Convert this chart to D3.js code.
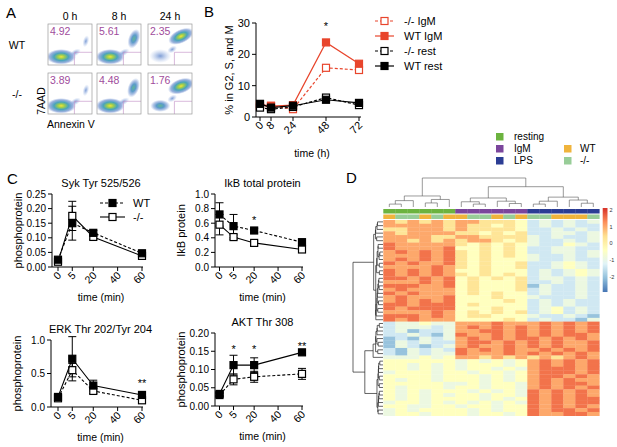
<!DOCTYPE html>
<html>
<head>
<meta charset="utf-8">
<script src="https://cdn.jsdelivr.net/npm/d3@7"></script>
<style>
  body { margin: 0; background: #fff; }
  text { font-family: "Liberation Sans", Arial, Helvetica, sans-serif; }
</style>
</head>
<body>
<script>
// ---------------- data: panel A (flow plots) ----------------
const flowTimes = ['0 h', '8 h', '24 h'];
const flowGenotypes = ['WT', '-/-'];
const flowPct = [[4.92, 5.61, 2.35], [3.89, 4.48, 1.76]];
// populations in each plot, fractions of the box: [cx, cy, rx, ry, angle, kind]
const flowBlobs = [
  [
    [[0.30, 0.80, 0.34, 0.19, 0, 'hot'], [0.62, 0.70, 0.14, 0.08, -30, 'faint'], [0.86, 0.42, 0.07, 0.15, 15, 'faint']],
    [[0.30, 0.80, 0.33, 0.19, 0, 'hot'], [0.60, 0.70, 0.15, 0.08, -30, 'faint'], [0.84, 0.36, 0.13, 0.25, 20, 'cool']],
    [[0.28, 0.78, 0.25, 0.17, 0, 'faint'], [0.55, 0.62, 0.12, 0.08, -30, 'faint'], [0.75, 0.30, 0.31, 0.17, -25, 'hot']]
  ],
  [
    [[0.30, 0.80, 0.34, 0.19, 0, 'hot'], [0.62, 0.70, 0.14, 0.08, -30, 'faint'], [0.86, 0.42, 0.07, 0.15, 15, 'faint']],
    [[0.30, 0.80, 0.33, 0.19, 0, 'hot'], [0.60, 0.70, 0.15, 0.08, -30, 'faint'], [0.83, 0.36, 0.13, 0.25, 20, 'cool']],
    [[0.28, 0.80, 0.23, 0.15, 0, 'cool'], [0.55, 0.62, 0.12, 0.08, -30, 'faint'], [0.75, 0.32, 0.31, 0.18, -20, 'hot']]
  ]
];

// ---------------- data: panel B ----------------
const bTimes = [0, 8, 24, 48, 72];
const bKoIgM = [3.5, 3.6, 2.5, 15.7, 15.0];
const bWtIgM = [4.0, 3.5, 3.8, 23.8, 17.0];
const bKoRest = [3.0, 2.5, 3.2, 6.2, 3.8];
const bWtRest = [4.2, 3.0, 3.6, 5.5, 4.5];
const bNames = ['-/- IgM', 'WT IgM', '-/- rest', 'WT rest'];
const bYTicks = [0, 10, 20, 30];

// ---------------- data: panel C ----------------
const cTimes = [0, 5, 20, 60];
const cTickTimes = [0, 5, 20, 40, 60];
const sykWT = [0.025, 0.150, 0.117, 0.047];
const sykWTErr = [0.005, 0.058, 0.008, 0.005];
const sykKO = [0.018, 0.175, 0.103, 0.038];
const sykKOErr = [0.004, 0.050, 0.008, 0.004];
const ikbWT = [0.72, 0.56, 0.50, 0.34];
const ikbWTErr = [0.16, 0.16, 0.03, 0.02];
const ikbKO = [0.58, 0.41, 0.33, 0.24];
const ikbKOErr = [0.14, 0.03, 0.03, 0.02];
const erkWT = [0.15, 0.72, 0.32, 0.18];
const erkWTErr = [0.05, 0.33, 0.08, 0.02];
const erkKO = [0.13, 0.55, 0.24, 0.10];
const erkKOErr = [0.03, 0.10, 0.04, 0.02];
const aktWT = [0.033, 0.112, 0.112, 0.147];
const aktWTErr = [0.004, 0.027, 0.020, 0.005];
const aktKO = [0.030, 0.073, 0.080, 0.088];
const aktKOErr = [0.004, 0.015, 0.015, 0.015];

// ---------------- data: panel D (heatmap) ----------------
const treatments = ['resting', 'IgM', 'LPS'];
const colTreat = [0, 0, 0, 0, 0, 0, 1, 1, 1, 1, 1, 1, 2, 2, 2, 2, 2, 2];
const colGeno = ['WT', '-/-', '-/-', 'WT', '-/-', 'WT', 'WT', '-/-', '-/-', 'WT', '-/-', 'WT',
                 '-/-', '-/-', 'WT', 'WT', 'WT', '-/-'];
// column dendrogram: [height, left, right]; leaves are column indexes
const colTree = [1.0,
  [0.38, [0.22, [0.10, 0, 1], 2], [0.26, [0.14, 3, 4], 5]],
  [0.70,
    [0.31, [0.18, 6, [0.10, 7, 8]], [0.20, 9, [0.12, 10, 11]]],
    [0.34, [0.20, [0.10, 12, 13], 14], [0.24, 15, [0.13, 16, 17]]]]];
const levelValues = [-2.6, -2.0, -1.4, -0.9, -0.4, 0.3, 1.0, 1.5, 1.9];
const heatRows = [
  '656565665554232323', '666655665555323223', '556665655554223232', '665656566545322323',
  '666665655454232322', '656666554545223323', '766666545454322432', '776767454545233232',
  '767676445444232343', '777667454445132232', '676767545454223323', '767777444544234232',
  '777676455444322321', '676767444454232322', '767667545445223432', '776777454444232322',
  '676667444544322232', '767676545454232343', '666767454445223232', '767666444454232213',
  '676767545444322322', '666676454545234232', '766667445454223322', '676666454445232232',
  '666767545454322323', '767666454544232232', '666676545445223432',
  '233433666766676767', '121323676767767676', '213232767676676767', '132322677676767667',
  '223213766767676776', '132123676676767667', '231223667767676767', '213233766676767676',
  '233323676767676767', '333434665656565676',
  '444444343434676767', '434344434343767676', '444434443434677676', '343444434344767767',
  '444443343443676776', '434344443434767677', '443434344343677767', '344344434434766776',
  '434443443443676767', '443344344344767676', '344434434434677767', '434343443443767676',
  '443434344434676767', '344343434343767677', '434434443434676766'
];
const legendTicks = [2, 1, 0, -1, -2];
const heatBreaks = [-2.9, -2.07, -1.23, -0.4, 0.43, 1.27, 2.1];
const heatPalette = ['#4575b4', '#91bfdb', '#e0f3f8', '#ffffbf', '#fee090', '#fc8d59', '#d73027'];

// ================================================================
const svg = d3.select('body').append('svg').attr('width', 617).attr('height', 447);
const defs = svg.append('defs');
const RED = '#e8452c';

const panelLabel = (t, x, y) => svg.append('text').attr('x', x).attr('y', y)
  .attr('font-size', 15).text(t);

// ---------------- panel A ----------------
panelLabel('A', 6, 18);
const gradStops = {
  hot: [[0, '#f2e23c', 1], [0.22, '#9fcf4c', 1], [0.48, '#3f9fb8', 0.95], [0.78, '#5a80c8', 0.6], [1, '#86a4dc', 0]],
  cool: [[0, '#62b796', 1], [0.38, '#4a90c4', 0.9], [0.72, '#6d8fd0', 0.5], [1, '#90b0e0', 0]],
  faint: [[0, '#5f86cc', 0.8], [1, '#9ab4e4', 0]]
};
Object.entries(gradStops).forEach(([k, stops]) => {
  const g = defs.append('radialGradient').attr('id', 'blob-' + k);
  stops.forEach(s => g.append('stop').attr('offset', s[0]).attr('stop-color', s[1]).attr('stop-opacity', s[2]));
});
const flowX = [48, 97, 148], flowY = [24, 73], flowW = 44, flowH = 41;
flowTimes.forEach((t, j) => svg.append('text').attr('x', flowX[j] + flowW / 2).attr('y', 20)
  .attr('text-anchor', 'middle').attr('font-size', 10.5).text(t));
flowGenotypes.forEach((g, i) => svg.append('text').attr('x', 17).attr('y', flowY[i] + 25)
  .attr('text-anchor', 'middle').attr('font-size', 10.5).text(g));
flowGenotypes.forEach((g, i) => flowTimes.forEach((t, j) => {
  const box = svg.append('g').attr('transform', `translate(${flowX[j]},${flowY[i]})`);
  const cid = `clip-${i}-${j}`;
  defs.append('clipPath').attr('id', cid).append('rect').attr('width', flowW).attr('height', flowH);
  box.append('rect').attr('width', flowW).attr('height', flowH).attr('fill', '#fff');
  const inner = box.append('g').attr('clip-path', `url(#${cid})`);
  flowBlobs[i][j].forEach(b => {
    const cx = b[0] * flowW, cy = b[1] * flowH;
    inner.append('ellipse').attr('cx', cx).attr('cy', cy)
      .attr('rx', b[2] * flowW).attr('ry', b[3] * flowH)
      .attr('transform', `rotate(${b[4]},${cx},${cy})`)
      .attr('fill', `url(#blob-${b[5]})`);
  });
  // apoptotic gate
  box.append('path').attr('d', `M${flowW * 0.6},${flowH} V${flowH * 0.69} H${flowW}`)
    .attr('fill', 'none').attr('stroke', '#c79bcc').attr('stroke-width', 0.7);
  box.append('rect').attr('width', flowW).attr('height', flowH)
    .attr('fill', 'none').attr('stroke', '#9a9a9a').attr('stroke-width', 0.7);
  box.append('text').attr('x', 2).attr('y', 11).attr('font-size', 10.5)
    .attr('fill', '#a04c9c').text(d3.format('.2f')(flowPct[i][j]));
}));
svg.append('text').attr('transform', 'translate(45,101) rotate(-90)')
  .attr('text-anchor', 'middle').attr('font-size', 10.5).text('7AAD');
svg.append('text').attr('x', 47).attr('y', 128).attr('font-size', 10.5).text('Annexin V');

// helpers for markers
function square(g, x, y, s, color, filled) {
  g.append('rect').attr('x', x - s / 2).attr('y', y - s / 2).attr('width', s).attr('height', s)
    .attr('fill', filled ? color : '#fff').attr('stroke', color).attr('stroke-width', 1.2);
}

// ---------------- panel B ----------------
panelLabel('B', 204, 17);
const xB = d3.scaleLinear([0, 72], [260, 359]);
const yB = d3.scaleLinear([0, 30], [117, 23]);
const gB = svg.append('g');
gB.append('line').attr('x1', 256).attr('x2', 256).attr('y1', yB(0)).attr('y2', yB(30)).attr('stroke', '#000');
gB.append('line').attr('x1', 256).attr('x2', 361).attr('y1', yB(0)).attr('y2', yB(0)).attr('stroke', '#000');
bYTicks.forEach(v => {
  gB.append('line').attr('x1', 252).attr('x2', 256).attr('y1', yB(v)).attr('y2', yB(v)).attr('stroke', '#000');
  gB.append('text').attr('x', 250).attr('y', yB(v) + 4).attr('text-anchor', 'end').attr('font-size', 11).text(v);
});
bTimes.forEach(t => {
  gB.append('line').attr('x1', xB(t)).attr('x2', xB(t)).attr('y1', yB(0)).attr('y2', yB(0) + 4).attr('stroke', '#000');
  gB.append('text').attr('transform', `translate(${xB(t) + 4},${yB(0) + 9}) rotate(-45)`)
    .attr('text-anchor', 'end').attr('font-size', 11).text(t);
});
gB.append('text').attr('x', 312).attr('y', 157).attr('text-anchor', 'middle').attr('font-size', 10.5).text('time (h)');
gB.append('text').attr('transform', `translate(233,${(yB(0) + yB(30)) / 2}) rotate(-90)`)
  .attr('text-anchor', 'middle').attr('font-size', 11).text('% in G2, S, and M');
const bStyles = [
  { data: bKoIgM, color: RED, filled: false, dash: '3,2' },
  { data: bWtIgM, color: RED, filled: true, dash: null },
  { data: bKoRest, color: '#000', filled: false, dash: '3,2' },
  { data: bWtRest, color: '#000', filled: true, dash: null }
];
const lineB = d3.line().x((d, i) => xB(bTimes[i])).y(d => yB(d));
bStyles.forEach((s, k) => {
  gB.append('path').attr('d', lineB(s.data)).attr('fill', 'none').attr('stroke', s.color)
    .attr('stroke-width', 1.2).attr('stroke-dasharray', s.dash);
  s.data.forEach((v, i) => square(gB, xB(bTimes[i]), yB(v), 7, s.color, s.filled));
  const ly = 21 + k * 15;
  gB.append('line').attr('x1', 375).attr('x2', 394).attr('y1', ly).attr('y2', ly)
    .attr('stroke', s.color).attr('stroke-width', 1.2).attr('stroke-dasharray', s.dash);
  square(gB, 384.5, ly, 7, s.color, s.filled);
  gB.append('text').attr('x', 404).attr('y', ly + 4).attr('font-size', 11).text(bNames[k]);
});
gB.append('text').attr('x', xB(48)).attr('y', 30).attr('text-anchor', 'middle').attr('font-size', 11).text('*');

// ---------------- panel C ----------------
panelLabel('C', 7, 184);
const xFrac = [0, 0.17, 0.42, 0.71, 1];
const cPanels = [
  { title: 'Syk Tyr 525/526', ylab: 'phosphoprotein', axisX: 52, x0: 58, x1: 142, y0: 267, y1: 194,
    ymax: 0.25, ticks: [0, 0.05, 0.10, 0.15, 0.20, 0.25], fmt: '.2f',
    wt: sykWT, wtErr: sykWTErr, ko: sykKO, koErr: sykKOErr, wtDash: true, legend: true, stars: [] },
  { title: 'IkB total protein', ylab: 'IkB protein', axisX: 215, x0: 219.5, x1: 302, y0: 267, y1: 194,
    ymax: 1.0, ticks: [0, 0.2, 0.4, 0.6, 0.8, 1.0], fmt: '.1f',
    wt: ikbWT, wtErr: ikbWTErr, ko: ikbKO, koErr: ikbKOErr, wtDash: true, legend: false,
    stars: [[20, 0.64, '*']] },
  { title: 'ERK Thr 202/Tyr 204', ylab: 'phosphoprotein', axisX: 51, x0: 58, x1: 142, y0: 407, y1: 340,
    ymax: 1.0, ticks: [0, 0.5, 1.0], fmt: '.1f',
    wt: erkWT, wtErr: erkWTErr, ko: erkKO, koErr: erkKOErr, wtDash: false, legend: false,
    stars: [[60, 0.36, '**']] },
  { title: 'AKT Thr 308', ylab: 'phosphoprotein', axisX: 215, x0: 219.5, x1: 302, y0: 406, y1: 333,
    ymax: 0.20, ticks: [0, 0.05, 0.10, 0.15, 0.20], fmt: '.2f',
    wt: aktWT, wtErr: aktWTErr, ko: aktKO, koErr: aktKOErr, wtDash: false, legend: false,
    stars: [[5, 0.155, '*'], [20, 0.155, '*'], [60, 0.165, '**']] }
];
cPanels.forEach(p => {
  const g = svg.append('g');
  const x = d3.scaleLinear().domain(cTickTimes).range(xFrac.map(f => p.x0 + f * (p.x1 - p.x0)));
  const y = d3.scaleLinear([0, p.ymax], [p.y0, p.y1]);
  const midX = (p.axisX + p.x1) / 2 + 4;
  g.append('text').attr('x', midX).attr('y', p.y1 - 7).attr('text-anchor', 'middle').attr('font-size', 11).text(p.title);
  g.append('line').attr('x1', p.axisX).attr('x2', p.axisX).attr('y1', y(0)).attr('y2', y(p.ymax)).attr('stroke', '#000');
  g.append('line').attr('x1', p.axisX).attr('x2', p.x1 + 1).attr('y1', y(0)).attr('y2', y(0)).attr('stroke', '#000');
  p.ticks.forEach(v => {
    g.append('line').attr('x1', p.axisX - 4).attr('x2', p.axisX).attr('y1', y(v)).attr('y2', y(v)).attr('stroke', '#000');
    g.append('text').attr('x', p.axisX - 6).attr('y', y(v) + 3.5).attr('text-anchor', 'end')
      .attr('font-size', 10).text(d3.format(p.fmt)(v));
  });
  cTickTimes.forEach(t => {
    g.append('line').attr('x1', x(t)).attr('x2', x(t)).attr('y1', y(0)).attr('y2', y(0) + 4).attr('stroke', '#000');
    g.append('text').attr('transform', `translate(${x(t) + 4},${y(0) + 9}) rotate(-45)`)
      .attr('text-anchor', 'end').attr('font-size', 10.5).text(t);
  });
  g.append('text').attr('x', midX).attr('y', p.y0 + 34).attr('text-anchor', 'middle').attr('font-size', 10.5).text('time (min)');
  g.append('text').attr('transform', `translate(${p.axisX - 30},${(p.y0 + p.y1) / 2}) rotate(-90)`)
    .attr('text-anchor', 'middle').attr('font-size', 11).text(p.ylab);
  const line = d3.line().x((d, i) => x(cTimes[i])).y(d => y(d));
  const series = [
    { v: p.ko, e: p.koErr, filled: false, dash: p.wtDash ? null : '3,2' },
    { v: p.wt, e: p.wtErr, filled: true, dash: p.wtDash ? '3,2' : null }
  ];
  series.forEach(s => {
    s.v.forEach((v, i) => {
      const cx = x(cTimes[i]);
      const top = y(v + s.e[i]), bot = y(Math.max(0, v - s.e[i]));
      g.append('line').attr('x1', cx).attr('x2', cx).attr('y1', top).attr('y2', bot).attr('stroke', '#000');
      [top, bot].forEach(yy => g.append('line').attr('x1', cx - 4).attr('x2', cx + 4)
        .attr('y1', yy).attr('y2', yy).attr('stroke', '#000'));
    });
  });
  series.forEach(s => {
    g.append('path').attr('d', line(s.v)).attr('fill', 'none').attr('stroke', '#000')
      .attr('stroke-width', 1.1).attr('stroke-dasharray', s.dash);
    s.v.forEach((v, i) => square(g, x(cTimes[i]), y(v), 7, '#000', s.filled));
  });
  p.stars.forEach(st => g.append('text').attr('x', x(st[0])).attr('y', y(st[1]) + 4)
    .attr('text-anchor', 'middle').attr('font-size', 11).attr('fill', '#000').text(st[2]));
  if (p.legend) {
    [['WT', true, '3,2', 203], ['-/-', false, null, 217]].forEach(l => {
      g.append('line').attr('x1', 100).attr('x2', 125).attr('y1', l[3]).attr('y2', l[3])
        .attr('stroke', '#000').attr('stroke-width', 1.1).attr('stroke-dasharray', l[2]);
      square(g, 112.5, l[3], 7, '#000', l[1]);
      g.append('text').attr('x', 133).attr('y', l[3] + 4).attr('font-size', 11).text(l[0]);
    });
  }
});

// ---------------- panel D ----------------
panelLabel('D', 346, 183);
const treatColors = ['#6cb33f', '#7b469c', '#2b3d94'];
const genoColors = { 'WT': '#f0b43c', '-/-': '#98cd98' };
const heatX = d3.scaleBand().domain(d3.range(colTreat.length)).range([383.3, 599.3]);
const color = d3.scaleLinear().domain(heatBreaks).range(heatPalette);
const gD = svg.append('g');

// legend of annotations
treatments.forEach((t, i) => {
  gD.append('rect').attr('x', 496).attr('y', 133 + i * 12).attr('width', 7.5).attr('height', 7.5).attr('fill', treatColors[i]);
  gD.append('text').attr('x', 514).attr('y', 140 + i * 12).attr('font-size', 10).text(t);
});
['WT', '-/-'].forEach((t, i) => {
  gD.append('rect').attr('x', 564).attr('y', 145 + i * 12).attr('width', 7.5).attr('height', 7.5).attr('fill', genoColors[t]);
  gD.append('text').attr('x', 580).attr('y', 152 + i * 12).attr('font-size', 10).text(t);
});

// annotation bars
colTreat.forEach((t, i) => {
  gD.append('rect').attr('x', heatX(i)).attr('y', 209).attr('width', heatX.bandwidth() + 0.3).attr('height', 4.5)
    .attr('fill', treatColors[t]);
  gD.append('rect').attr('x', heatX(i)).attr('y', 214.5).attr('width', heatX.bandwidth() + 0.3).attr('height', 4.5)
    .attr('fill', genoColors[colGeno[i]]);
});

// column dendrogram
const colY = d3.scaleLinear([0, 1], [207, 178]);
function drawCol(node) {
  if (typeof node === 'number') return { x: heatX(node) + heatX.bandwidth() / 2, h: 0 };
  const a = drawCol(node[1]), b = drawCol(node[2]);
  gD.append('path').attr('d', `M${a.x},${colY(a.h)}V${colY(node[0])}H${b.x}V${colY(b.h)}`)
    .attr('fill', 'none').attr('stroke', '#555').attr('stroke-width', 0.6);
  return { x: (a.x + b.x) / 2, h: node[0] };
}
drawCol(colTree);

// rows: values, then average-linkage clustering for the row order
const rowVals = heatRows.map(r => r.split('').map(c => levelValues[+c]));
function clusterRows(mat) {
  const D = mat.map(a => mat.map(b => Math.sqrt(d3.sum(a, (v, k) => (v - b[k]) ** 2))));
  let active = mat.map((r, i) => ({ members: [i], h: 0, leaf: i }));
  while (active.length > 1) {
    let best = null;
    for (let a = 0; a < active.length; a++) for (let b = a + 1; b < active.length; b++) {
      let s = 0;
      for (const i of active[a].members) for (const j of active[b].members) s += D[i][j];
      const d = s / (active[a].members.length * active[b].members.length);
      if (!best || d < best.d) best = { a, b, d };
    }
    const A = active[best.a], B = active[best.b];
    const kids = d3.min(A.members) < d3.min(B.members) ? [A, B] : [B, A];
    active = active.filter((_, k) => k !== best.a && k !== best.b);
    active.push({ members: A.members.concat(B.members), h: best.d, children: kids });
  }
  return active[0];
}
const rowRoot = clusterRows(rowVals);
const order = [];
(function walk(n) { if (n.children) n.children.forEach(walk); else order.push(n.leaf); })(rowRoot);
const heatTop = 220, heatBottom = 415.7;
const heatY = d3.scaleBand().domain(d3.range(order.length)).range([heatTop, heatBottom]);
order.forEach((r, pos) => {
  rowVals[r].forEach((v, c) => {
    gD.append('rect').attr('x', heatX(c)).attr('y', heatY(pos))
      .attr('width', heatX.bandwidth() + 0.3).attr('height', heatY.bandwidth() + 0.3).attr('fill', color(v));
  });
});

// row dendrogram
const rowX = d3.scaleLinear([0, rowRoot.h], [383, 353]);
const posOf = new Map(order.map((r, p) => [r, p]));
function drawRow(n) {
  if (!n.children) return { y: heatY(posOf.get(n.leaf)) + heatY.bandwidth() / 2, h: 0 };
  const a = drawRow(n.children[0]), b = drawRow(n.children[1]);
  gD.append('path').attr('d', `M${rowX(a.h)},${a.y}H${rowX(n.h)}V${b.y}H${rowX(b.h)}`)
    .attr('fill', 'none').attr('stroke', '#222').attr('stroke-width', 0.7);
  return { y: (a.y + b.y) / 2, h: n.h };
}
drawRow(rowRoot);

// colour key
const keyY = d3.scaleLinear([0, 1], [243.3, 226.5]);
const grad = defs.append('linearGradient').attr('id', 'key').attr('x1', 0).attr('x2', 0).attr('y1', 1).attr('y2', 0);
heatBreaks.forEach((b, i) => grad.append('stop')
  .attr('offset', (b - heatBreaks[0]) / (heatBreaks[6] - heatBreaks[0])).attr('stop-color', heatPalette[i]));
gD.append('rect').attr('x', 602.7).attr('y', keyY(heatBreaks[6])).attr('width', 4.8)
  .attr('height', keyY(heatBreaks[0]) - keyY(heatBreaks[6])).attr('fill', 'url(#key)');
legendTicks.forEach(v => gD.append('text').attr('x', 609.5).attr('y', keyY(v) + 2)
  .attr('font-size', 5.5).attr('fill', '#333').text(v));
</script>
</body>
</html>
